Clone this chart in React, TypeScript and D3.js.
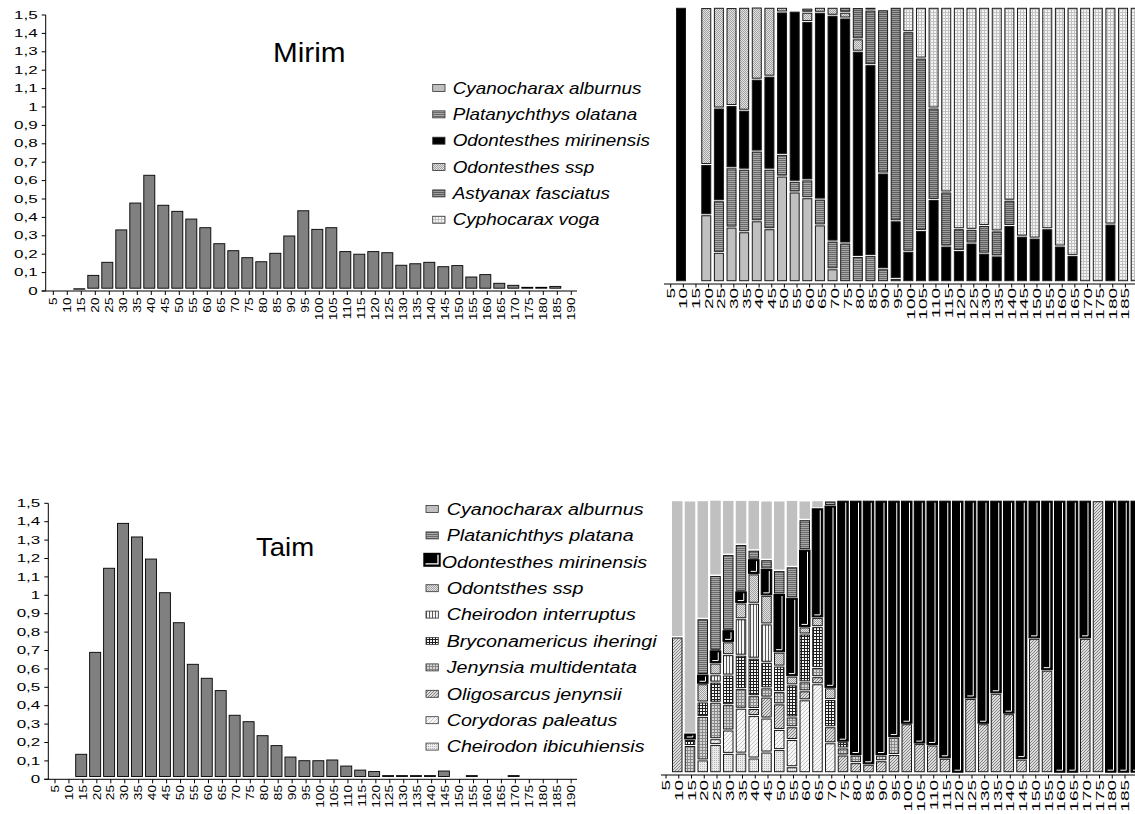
import React from "react";
import * as d3 from "d3";

const FONT = "'Liberation Sans', Arial, Helvetica, sans-serif";

// Length classes (mm)
const sizeClasses = ["5", "10", "15", "20", "25", "30", "35", "40", "45", "50", "55", "60", "65", "70", "75", "80", "85", "90", "95", "100", "105", "110", "115", "120", "125", "130", "135", "140", "145", "150", "155", "160", "165", "170", "175", "180", "185", "190"];
const stackClasses = sizeClasses.slice(0, 37);

const yTicks = [0, 0.1, 0.2, 0.3, 0.4, 0.5, 0.6, 0.7, 0.8, 0.9, 1, 1.1, 1.2, 1.3, 1.4, 1.5];
const yTickLabels = ["0", "0,1", "0,2", "0,3", "0,4", "0,5", "0,6", "0,7", "0,8", "0,9", "1", "1,1", "1,2", "1,3", "1,4", "1,5"];

// Length-frequency density, lagoa Mirim
const mirimDensity = [0, 0, 0.012, 0.085, 0.156, 0.332, 0.478, 0.629, 0.466, 0.433, 0.391, 0.344, 0.257, 0.219, 0.181, 0.159, 0.205, 0.299, 0.436, 0.335, 0.344, 0.214, 0.2, 0.214, 0.208, 0.14, 0.148, 0.156, 0.132, 0.138, 0.076, 0.089, 0.042, 0.031, 0.02, 0.02, 0.025, 0];
// Length-frequency density, lagoa do Taim
const taimDensity = [0, 0, 0.136, 0.69, 1.147, 1.391, 1.317, 1.197, 1.014, 0.851, 0.625, 0.549, 0.482, 0.348, 0.313, 0.237, 0.183, 0.121, 0.101, 0.101, 0.105, 0.072, 0.05, 0.042, 0.02, 0.02, 0.02, 0.02, 0.045, 0, 0.02, 0, 0, 0.02, 0, 0, 0, 0];

// Species share per length class, Mirim
const mirimNames = ["Cyanocharax alburnus", "Platanychthys olatana", "Odontesthes mirinensis", "Odontesthes ssp", "Astyanax fasciatus", "Cyphocarax voga"];
const mirimCyanocharax = [0, 0, 0.244, 0.107, 0.199, 0.182, 0.222, 0.193, 0.385, 0.327, 0.306, 0.207, 0.047, 0, 0, 0, 0, 0, 0, 0, 0, 0, 0, 0, 0, 0, 0, 0, 0, 0, 0, 0, 0, 0, 0, 0, 0];
const mirimPlatanychthys = [0, 0, 0, 0.188, 0.216, 0.228, 0.254, 0.217, 0.079, 0.039, 0.065, 0.094, 0.101, 0.141, 0.092, 0.095, 0.047, 0.012, 0, 0, 0, 0, 0, 0, 0, 0, 0, 0, 0, 0, 0, 0, 0, 0, 0, 0, 0];
const mirimMirinensis = [1, 0, 0.183, 0.338, 0.227, 0.215, 0.262, 0.339, 0.519, 0.62, 0.577, 0.681, 0.823, 0.82, 0.748, 0.696, 0.349, 0.21, 0.111, 0.187, 0.3, 0.13, 0.114, 0.141, 0.104, 0.094, 0.205, 0.166, 0.159, 0.193, 0.13, 0.096, 0, 0, 0.21, 0, 0];
const mirimOdontSsp = [0, 0, 0.572, 0.367, 0.357, 0.375, 0.263, 0.251, 0.017, 0, 0.034, 0.018, 0.029, 0.021, 0.045, 0, 0, 0, 0, 0, 0, 0, 0, 0, 0, 0, 0, 0, 0, 0, 0, 0, 0, 0, 0, 0, 0];
const mirimAstyanax = [0, 0, 0, 0, 0, 0, 0, 0, 0, 0, 0.015, 0, 0, 0.018, 0.114, 0.199, 0.595, 0.778, 0.8, 0.628, 0.333, 0.197, 0.079, 0.05, 0.101, 0.091, 0.092, 0, 0, 0, 0, 0, 0, 0, 0, 0, 0];
const mirimCyphocarax = [0, 0, 0, 0, 0, 0, 0, 0, 0, 0, 0, 0, 0, 0, 0, 0.01, 0, 0, 0.089, 0.185, 0.367, 0.673, 0.807, 0.809, 0.795, 0.815, 0.703, 0.834, 0.841, 0.807, 0.87, 0.904, 1, 1, 0.79, 1, 1];

// Species share per length class, Taim
const taimNames = ["Cyanocharax alburnus", "Platanichthys platana", "Odontesthes mirinensis", "Odontsthes ssp", "Cheirodon interruptus", "Bryconamericus iheringi", "Jenynsia multidentata", "Oligosarcus jenynsii", "Corydoras paleatus", "Cheirodon ibicuhiensis"];
const taimCyanocharax = [0.501, 0.855, 0.434, 0.277, 0.199, 0.162, 0.183, 0.216, 0.256, 0.244, 0.069, 0.028, 0, 0, 0, 0, 0, 0, 0, 0, 0, 0, 0, 0, 0, 0, 0, 0, 0, 0, 0, 0, 0, 0, 0, 0, 0];
const taimPlatanichthys = [0, 0, 0.205, 0.275, 0.278, 0.172, 0.033, 0.034, 0.086, 0.114, 0.11, 0, 0.017, 0, 0, 0, 0, 0, 0, 0, 0, 0, 0, 0, 0, 0, 0, 0, 0, 0, 0, 0, 0, 0, 0, 0, 0];
const taimMirinensis = [0, 0.022, 0.034, 0.047, 0.043, 0.043, 0.054, 0.097, 0.214, 0.288, 0.284, 0.401, 0.67, 0.886, 0.935, 0.969, 0.935, 0.869, 0.82, 0.893, 0.898, 0.947, 1, 0.727, 0.82, 0.708, 0.783, 0.95, 0.506, 0.623, 1, 1, 0.506, 0, 1, 1, 1];
const taimOdontSsp = [0, 0, 0.067, 0.043, 0.047, 0.058, 0.108, 0.105, 0.051, 0.032, 0.026, 0.034, 0.043, 0, 0, 0, 0, 0, 0, 0, 0, 0, 0, 0, 0, 0, 0, 0, 0, 0, 0, 0, 0, 0, 0, 0, 0];
const taimInterruptus = [0, 0, 0, 0.027, 0.075, 0.134, 0.202, 0.141, 0, 0, 0, 0, 0, 0, 0, 0, 0, 0, 0, 0, 0, 0, 0, 0, 0, 0, 0, 0, 0, 0, 0, 0, 0, 0, 0, 0, 0];
const taimBryconamericus = [0, 0.022, 0.053, 0.074, 0.109, 0.123, 0.138, 0.094, 0.094, 0.118, 0.176, 0.15, 0.1, 0.023, 0, 0, 0, 0, 0, 0, 0, 0, 0, 0, 0, 0, 0, 0, 0, 0, 0, 0, 0, 0, 0, 0, 0];
const taimJenynsia = [0, 0.1, 0.16, 0.134, 0.093, 0.072, 0.047, 0.034, 0.045, 0.036, 0.033, 0.034, 0, 0.026, 0.028, 0, 0.021, 0.064, 0, 0, 0, 0, 0, 0, 0, 0, 0, 0, 0, 0, 0, 0, 0, 0, 0, 0, 0];
const taimOligosarcus = [0.499, 0, 0, 0, 0, 0, 0.026, 0.077, 0.094, 0.047, 0.033, 0.026, 0.059, 0.065, 0.037, 0.031, 0.044, 0.067, 0.18, 0.107, 0.102, 0.053, 0, 0.273, 0.18, 0.292, 0.217, 0.05, 0.494, 0.377, 0, 0, 0.494, 1, 0, 0, 0];
const taimCorydoras = [0, 0, 0, 0.021, 0.086, 0.165, 0.156, 0.125, 0.074, 0.1, 0.268, 0.327, 0.11, 0, 0, 0, 0, 0, 0, 0, 0, 0, 0, 0, 0, 0, 0, 0, 0, 0, 0, 0, 0, 0, 0, 0, 0];
const taimIbicuhiensis = [0, 0, 0.047, 0.104, 0.071, 0.072, 0.054, 0.076, 0.085, 0.022, 0, 0, 0, 0, 0, 0, 0, 0, 0, 0, 0, 0, 0, 0, 0, 0, 0, 0, 0, 0, 0, 0, 0, 0, 0, 0, 0];

// fill for each species (same order as the name lists)
const mirimFills = ["#c0c0c0", "url(#hStripe)", "#000000", "url(#stipple)", "url(#hStripeDark)", "url(#lightGrid)"];
const taimFills = ["#c0c0c0", "url(#hStripe)", "#000000", "url(#stipple)", "url(#vStripe)", "url(#darkGrid)", "url(#grayGrid)", "url(#diagHatch)", "url(#lightDiag)", "url(#lightDots)"];

function Patterns() {
  return (
    <defs>
      <pattern id="hStripe" width={4} height={2} patternUnits="userSpaceOnUse">
        <rect width={4} height={2} fill="#a8a8a8" />
        <rect width={4} height={1} fill="#6a6a6a" />
      </pattern>
      <pattern id="hStripeDark" width={4} height={2} patternUnits="userSpaceOnUse">
        <rect width={4} height={2} fill="#9c9c9c" />
        <rect width={4} height={1} fill="#5e5e5e" />
      </pattern>
      <pattern id="stipple" width={2} height={2} patternUnits="userSpaceOnUse">
        <rect width={2} height={2} fill="#e2e2e2" />
        <rect x={0} y={0} width={1} height={1} fill="#a2a2a2" />
        <rect x={1} y={1} width={1} height={1} fill="#a2a2a2" />
      </pattern>
      <pattern id="lightGrid" width={3} height={3} patternUnits="userSpaceOnUse">
        <rect width={3} height={3} fill="#f4f4f4" />
        <rect width={3} height={1} fill="#c2c2c2" />
        <rect width={1} height={3} fill="#c2c2c2" />
      </pattern>
      <pattern id="vStripe" width={3} height={3} patternUnits="userSpaceOnUse">
        <rect width={3} height={3} fill="#f6f6f6" />
        <rect width={1} height={3} fill="#5a5a5a" />
      </pattern>
      <pattern id="darkGrid" width={3} height={3} patternUnits="userSpaceOnUse">
        <rect width={3} height={3} fill="#f4f4f4" />
        <rect width={3} height={1} fill="#1e1e1e" />
        <rect width={1} height={3} fill="#1e1e1e" />
      </pattern>
      <pattern id="grayGrid" width={3} height={3} patternUnits="userSpaceOnUse">
        <rect width={3} height={3} fill="#d6d6d6" />
        <rect width={3} height={1} fill="#8a8a8a" />
        <rect width={1} height={3} fill="#8a8a8a" />
      </pattern>
      <pattern id="diagHatch" width={3} height={3} patternUnits="userSpaceOnUse">
        <rect width={3} height={3} fill="#dcdcdc" />
        <rect x={0} y={2} width={1} height={1} fill="#848484" />
        <rect x={1} y={1} width={1} height={1} fill="#848484" />
        <rect x={2} y={0} width={1} height={1} fill="#848484" />
      </pattern>
      <pattern id="lightDiag" width={4} height={4} patternUnits="userSpaceOnUse">
        <rect width={4} height={4} fill="#f7f7f7" />
        <rect x={0} y={3} width={1} height={1} fill="#c6c6c6" />
        <rect x={1} y={2} width={1} height={1} fill="#c6c6c6" />
        <rect x={2} y={1} width={1} height={1} fill="#c6c6c6" />
        <rect x={3} y={0} width={1} height={1} fill="#c6c6c6" />
      </pattern>
      <pattern id="lightDots" width={2} height={2} patternUnits="userSpaceOnUse">
        <rect width={2} height={2} fill="#ececec" />
        <rect width={1} height={1} fill="#b6b6b6" />
      </pattern>
    </defs>
  );
}

type HistProps = {
  values: number[];
  axisX: number;
  yTop: number;
  yBottom: number;
  firstTick: number;
  step: number;
  barShift: number;
  axisRight: number;
  labelY: number;
};

function Histogram({ values, axisX, yTop, yBottom, firstTick, step, barShift, axisRight, labelY }: HistProps) {
  const y = d3.scaleLinear().domain([0, 1.5]).range([yBottom, yTop]);
  const x = d3
    .scaleBand<string>()
    .domain(sizeClasses)
    .range([firstTick - step / 2, firstTick - step / 2 + step * sizeClasses.length]);
  const half = x.bandwidth() / 2;
  const base = y(0) - 2.8;
  const bw = 11;
  return (
    <g>
      {values.map((v, i) => {
        if (v <= 0) return null;
        const cx = (x(sizeClasses[i]) as number) + half + barShift;
        return (
          <rect
            key={i}
            x={cx - bw / 2}
            y={y(v)}
            width={bw}
            height={Math.max(base - y(v), 0.4)}
            fill="#808080"
            stroke="#000"
            strokeWidth={0.9}
          />
        );
      })}
      <line x1={axisX} x2={axisX} y1={yTop} y2={yBottom} stroke="#000" />
      {yTicks.map((t, i) => (
        <g key={t}>
          <line x1={axisX - 4} x2={axisX} y1={y(t)} y2={y(t)} stroke="#000" />
          <text
            transform={`translate(${axisX - 8},${y(t) + 3.6}) scale(1.7,1)`}
            fontSize={10}
            textAnchor="end"
            fill="#000"
          >
            {yTickLabels[i]}
          </text>
        </g>
      ))}
      <line x1={axisX - 4} x2={axisRight} y1={yBottom} y2={yBottom} stroke="#000" />
      {sizeClasses.map((c) => {
        const tx = (x(c) as number) + half;
        return (
          <g key={c}>
            <line x1={tx} x2={tx} y1={yBottom} y2={yBottom + 4} stroke="#000" />
            <text
              transform={`translate(${tx},${labelY}) rotate(-90) scale(1.3,1)`}
              fontSize={10.5}
              textAnchor="end"
              dy="0.35em"
              fill="#000"
            >
              {c}
            </text>
          </g>
        );
      })}
    </g>
  );
}

type StackProps = {
  series: { key: string; values: number[]; fill: string }[];
  firstTick: number;
  step: number;
  barOffset: number;
  barWidth: number;
  yTop: number;
  yBottom: number;
  axisY: number;
  axisX0: number;
  labelY: number;
  framed: boolean;
};

function StackedShares({ series, firstTick, step, barOffset, barWidth, yTop, yBottom, axisY, axisX0, labelY, framed }: StackProps) {
  const y = d3.scaleLinear().domain([0, 1]).range([yBottom, yTop]);
  const x = d3
    .scaleBand<string>()
    .domain(stackClasses)
    .range([firstTick, firstTick + step * stackClasses.length]);
  const rows = stackClasses.map((c, i) => {
    const r: Record<string, number | string> = { cls: c };
    series.forEach((s) => (r[s.key] = s.values[i]));
    return r;
  });
  const keys = series.map((s) => s.key);
  const layers = d3
    .stack<Record<string, number | string>>()
    .keys(keys)
    .value((d, k) => d[k] as number)(rows);

  return (
    <g>
      {layers.map((layer, li) => {
        const s = series[li];
        return (
          <g key={s.key}>
            {layer.map((d, i) => {
              const top = y(d[1]);
              const bot = y(d[0]);
              const h = bot - top;
              if (h < 0.3) return null;
              const bx = (x(stackClasses[i]) as number) + barOffset;
              if (!framed && s.key === "Cyanocharax") {
                return <rect key={i} x={bx} y={top + 0.5} width={barWidth} height={Math.max(h - 1.5, 0.5)} fill={s.fill} />;
              }
              if (!framed && s.key === "Mirinensis") {
                const r = bx + barWidth - 2.5;
                const b = bot - 2.5;
                return (
                  <g key={i}>
                    <rect x={bx} y={top + 0.5} width={barWidth} height={Math.max(h - 1, 0.5)} fill="#000" stroke="#000" strokeWidth={1} />
                    <polyline points={`${r},${top + 2} ${r},${b} ${bx + 2},${b}`} fill="none" stroke="#fff" strokeWidth={1} />
                  </g>
                );
              }
              return (
                <rect
                  key={i}
                  x={bx + 0.5}
                  y={top + 1}
                  width={barWidth - 1}
                  height={Math.max(h - 2, 0.5)}
                  fill={s.fill}
                  stroke="#1a1a1a"
                  strokeWidth={1}
                />
              );
            })}
          </g>
        );
      })}
      <line x1={axisX0} x2={1135} y1={axisY} y2={axisY} stroke="#000" />
      {stackClasses.map((c) => {
        const tx = x(c) as number;
        return (
          <g key={c}>
            <line x1={tx} x2={tx} y1={axisY} y2={axisY + 3.5} stroke="#000" />
            <text
              transform={`translate(${tx},${labelY}) rotate(-90) scale(1.65,1)`}
              fontSize={11.5}
              textAnchor="end"
              dy="0.35em"
              fill="#000"
            >
              {c}
            </text>
          </g>
        );
      })}
    </g>
  );
}

type LegendProps = {
  names: string[];
  fills: string[];
  iconX: number;
  textX: number;
  rowY: number;
  rowStep: number;
  stretch: number;
  shadowIndex: number;
};

function Legend({ names, fills, iconX, textX, rowY, rowStep, stretch, shadowIndex }: LegendProps) {
  const iw = 12.3;
  return (
    <g>
      {names.map((n, i) => {
        const cy = rowY + i * rowStep;
        const shadow = i === shadowIndex;
        return (
          <g key={n}>
            {shadow ? (
              <g>
                <rect x={iconX - 2.7} y={cy - 9} width={17.4} height={14} fill="#000" />
                <polyline
                  points={`${iconX + 12},${cy - 7} ${iconX + 12},${cy + 2} ${iconX - 0.5},${cy + 2}`}
                  fill="none"
                  stroke="#fff"
                  strokeWidth={1.3}
                />
              </g>
            ) : (
              <rect x={iconX} y={cy - 3.5} width={iw} height={7} fill={fills[i]} stroke="#333" strokeWidth={0.8} />
            )}
            <text
              transform={`translate(${shadow ? textX - 5 : textX},${cy + 5.7}) scale(${stretch},1)`}
              fontSize={16}
              fontStyle="italic"
              fill="#000"
            >
              {n}
            </text>
          </g>
        );
      })}
    </g>
  );
}

export default function App() {
  const mirimSeries = [
    { key: "Cyanocharax", values: mirimCyanocharax, fill: mirimFills[0] },
    { key: "Platanychthys", values: mirimPlatanychthys, fill: mirimFills[1] },
    { key: "Mirinensis", values: mirimMirinensis, fill: mirimFills[2] },
    { key: "OdontSsp", values: mirimOdontSsp, fill: mirimFills[3] },
    { key: "Astyanax", values: mirimAstyanax, fill: mirimFills[4] },
    { key: "Cyphocarax", values: mirimCyphocarax, fill: mirimFills[5] },
  ];
  // stacked from the bottom: last legend entry first
  const taimSeries = [
    { key: "Ibicuhiensis", values: taimIbicuhiensis, fill: taimFills[9] },
    { key: "Corydoras", values: taimCorydoras, fill: taimFills[8] },
    { key: "Oligosarcus", values: taimOligosarcus, fill: taimFills[7] },
    { key: "Jenynsia", values: taimJenynsia, fill: taimFills[6] },
    { key: "Bryconamericus", values: taimBryconamericus, fill: taimFills[5] },
    { key: "Interruptus", values: taimInterruptus, fill: taimFills[4] },
    { key: "OdontSsp", values: taimOdontSsp, fill: taimFills[3] },
    { key: "Mirinensis", values: taimMirinensis, fill: taimFills[2] },
    { key: "Platanichthys", values: taimPlatanichthys, fill: taimFills[1] },
    { key: "Cyanocharax", values: taimCyanocharax, fill: taimFills[0] },
  ];

  return (
    <svg
      width={1135}
      height={814}
      viewBox="0 0 1135 814"
      style={{ position: "absolute", left: 0, top: 0, display: "block", background: "#fff" }}
      fontFamily={FONT}
    >
      <Patterns />
      <rect width={1135} height={814} fill="#fff" />

      {/* Mirim */}
      <Histogram
        values={mirimDensity}
        axisX={45.7}
        yTop={15}
        yBottom={291}
        firstTick={53.3}
        step={14}
        barShift={-2}
        axisRight={577}
        labelY={297.5}
      />
      <text transform="translate(273,62) scale(1.1,1)" fontSize={27} fill="#000">
        Mirim
      </text>
      <Legend
        names={mirimNames}
        fills={mirimFills}
        iconX={432.7}
        textX={452.7}
        rowY={88}
        rowStep={26.35}
        stretch={1.18}
        shadowIndex={-1}
      />
      <StackedShares
        series={mirimSeries}
        firstTick={670.7}
        step={12.63}
        barOffset={5.3}
        barWidth={10}
        yTop={7.3}
        yBottom={281.7}
        axisY={284}
        axisX0={664}
        labelY={288}
        framed={true}
      />

      {/* Taim */}
      <Histogram
        values={taimDensity}
        axisX={48.3}
        yTop={503.3}
        yBottom={779.3}
        firstTick={55}
        step={13.95}
        barShift={-1.7}
        axisRight={577}
        labelY={785}
      />
      <text transform="translate(256,556) scale(1.06,1)" fontSize={26} fill="#000">
        Taim
      </text>
      <Legend
        names={taimNames}
        fills={taimFills}
        iconX={426}
        textX={446.7}
        rowY={509}
        rowStep={26.4}
        stretch={1.23}
        shadowIndex={2}
      />
      <StackedShares
        series={taimSeries}
        firstTick={666}
        step={12.75}
        barOffset={6}
        barWidth={10.5}
        yTop={500.7}
        yBottom={772.7}
        axisY={775}
        axisX0={661}
        labelY={780}
        framed={false}
      />
    </svg>
  );
}
